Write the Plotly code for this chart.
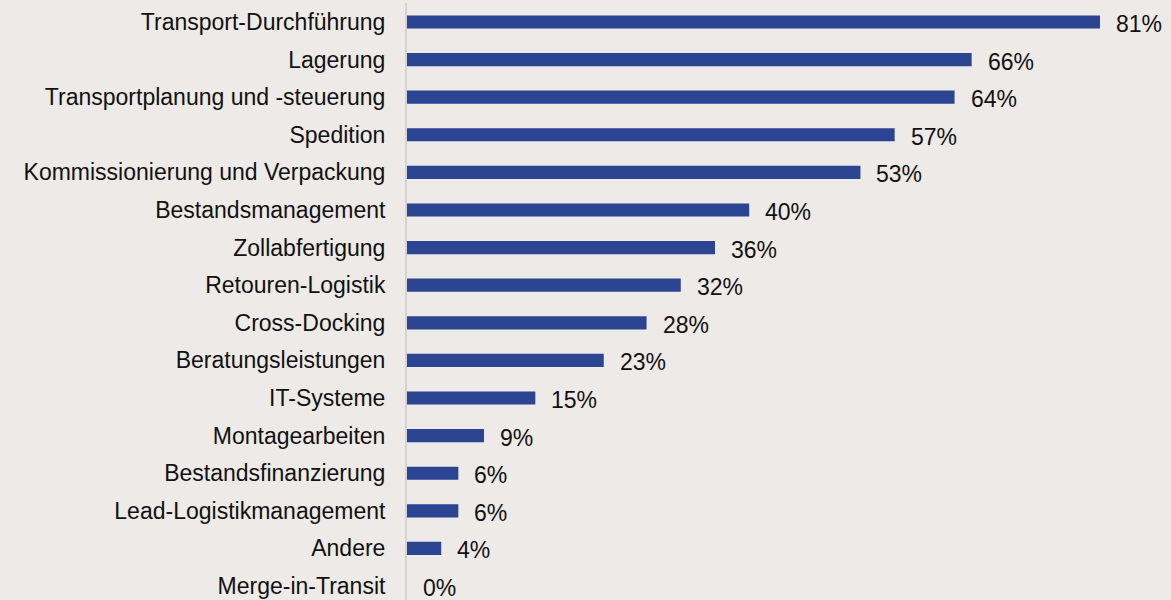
import plotly.graph_objects as go

categories = [
    "Transport-Durchführung", "Lagerung", "Transportplanung und -steuerung",
    "Spedition", "Kommissionierung und Verpackung", "Bestandsmanagement",
    "Zollabfertigung", "Retouren-Logistik", "Cross-Docking",
    "Beratungsleistungen", "IT-Systeme", "Montagearbeiten",
    "Bestandsfinanzierung", "Lead-Logistikmanagement", "Andere", "Merge-in-Transit",
]
values = [81, 66, 64, 57, 53, 40, 36, 32, 28, 23, 15, 9, 6, 6, 4, 0]
labels = [f"{v}%" for v in values]

BG = "#EEEAE8"
BAR = "#2B4592"
TXT = "#111111"
FONT = "Liberation Sans, Arial, sans-serif"
FS = 23

fig = go.Figure()
fig.add_trace(go.Bar(
    x=values, y=categories, orientation="h",
    marker=dict(color=BAR, line=dict(width=0)),
    width=0.35, hoverinfo="x+y",
))

for c, v, t in zip(categories, values, labels):
    fig.add_annotation(x=v, y=c, text=t, showarrow=False, xanchor="left",
                       xshift=14, yshift=-2, font=dict(size=FS, color=TXT, family=FONT))

fig.update_layout(
    width=1171, height=600,
    margin=dict(l=407, r=0, t=3, b=0),
    paper_bgcolor=BG, plot_bgcolor=BG,
    showlegend=False,
    font=dict(family=FONT, size=FS, color=TXT),
    xaxis=dict(range=[0, 89.3], visible=False, showgrid=False, zeroline=False),
    yaxis=dict(
        type="category", categoryorder="array", categoryarray=categories,
        range=[15.372, -0.505], showgrid=False, zeroline=False,
        showline=True, linecolor="#D6D2D0", linewidth=2,
        ticks="", ticklabelstandoff=15,
        tickfont=dict(size=FS, color=TXT, family=FONT),
    ),
)

fig.write_html(
    "out.html",
    config={"displayModeBar": False},
    post_script="document.body.style.margin='0';document.body.style.padding='0';"
                "document.body.style.overflow='hidden';"
                "document.body.style.background='#EEEAE8';",
)
